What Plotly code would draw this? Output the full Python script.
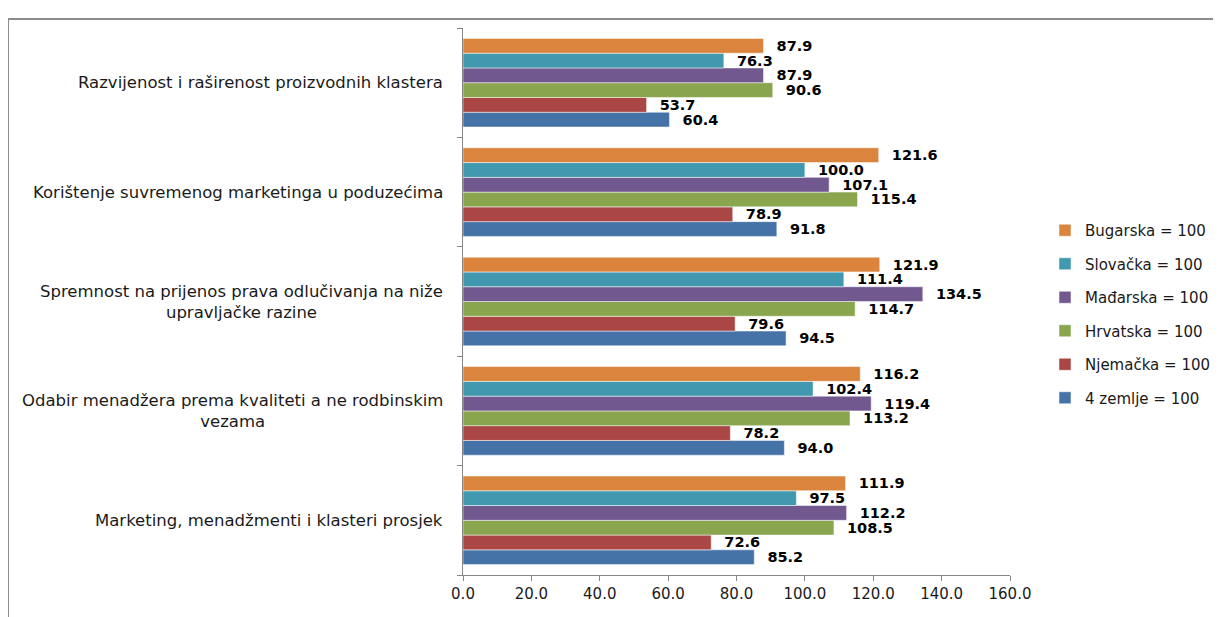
import plotly.graph_objects as go

categories = [
    "Marketing, menadžmenti i klasteri prosjek",
    "Odabir menadžera prema kvaliteti a ne rodbinskim<br>vezama",
    "Spremnost na prijenos prava odlučivanja na niže<br>upravljačke razine",
    "Korištenje suvremenog marketinga u poduzećima",
    "Razvijenost i raširenost proizvodnih klastera",
]

series_names = ["4 zemlje = 100", "Njemačka = 100", "Hrvatska = 100",
                "Mađarska = 100", "Slovačka = 100", "Bugarska = 100"]

# values per series, ordered as categories (bottom to top)
zemlje4 = [85.2, 94.0, 94.5, 91.8, 60.4]
njemacka = [72.6, 78.2, 79.6, 78.9, 53.7]
hrvatska = [108.5, 113.2, 114.7, 115.4, 90.6]
madarska = [112.2, 119.4, 134.5, 107.1, 87.9]
slovacka = [97.5, 102.4, 111.4, 100.0, 76.3]
bugarska = [111.9, 116.2, 121.9, 121.6, 87.9]

series_values = [zemlje4, njemacka, hrvatska, madarska, slovacka, bugarska]
colors = ["#4572A7", "#AA4643", "#89A54E", "#71588F", "#4198AF", "#DB843D"]

x_ticks = [0, 20, 40, 60, 80, 100, 120, 140, 160]
x_tick_labels = ["0.0", "20.0", "40.0", "60.0", "80.0", "100.0", "120.0", "140.0", "160.0"]

# page has an 8px body margin; work in window coordinates and shift
O = 8
WW, WH = 1221, 617
W, H = WW - O, WH - O
pl, pr, pt, pb = 463, 1010, 28, 575   # plot area in window coordinates
L, R, T, B = pl - O, (WW - pr), pt - O, (WH - pb)
pw, ph = pr - pl, pb - pt

fig = go.Figure()
n = len(series_names)
for i, (name, vals, col) in enumerate(zip(series_names, series_values, colors)):
    fig.add_trace(go.Bar(
        y=categories, x=vals, name=name, orientation="h",
        marker=dict(color=col, line=dict(color="white", width=0.5)),
        texttemplate="  %{x:.1f}", textposition="outside",
        textfont=dict(family="DejaVu Sans", size=14.5, color="black", weight="bold"),
        cliponaxis=False, legendgroup=name, legendrank=n - i,
        constraintext="none",
    ))

annotations = []
for c in categories:
    annotations.append(dict(
        x=0, xref="paper", y=c, yref="y", text=c, showarrow=False,
        xanchor="right", yanchor="middle", align="center", xshift=-18,
        font=dict(family="DejaVu Sans", size=16.5, color="#1a1a1a"),
    ))

fig.update_layout(
    width=W, height=H,
    margin=dict(l=L, r=R, t=T, b=B, autoexpand=False),
    barmode="group", bargap=0.19, bargroupgap=0.0,
    plot_bgcolor="white", paper_bgcolor="white",
    font=dict(family="DejaVu Sans", size=15, color="#000000"),
    legend=dict(
        x=(1045 - pl) / pw, y=(pb - 314) / ph, xanchor="left", yanchor="middle",
        traceorder="grouped", tracegroupgap=11,
        font=dict(family="DejaVu Sans", size=15, color="#1a1a1a"), itemwidth=30,
    ),
    xaxis=dict(
        range=[0, 160], tickvals=x_ticks, ticktext=x_tick_labels,
        showgrid=False, zeroline=False, showline=True, linecolor="#868686",
        ticks="outside", ticklen=5, tickcolor="#868686",
        tickfont=dict(family="DejaVu Sans", size=15, color="#1a1a1a"),
    ),
    yaxis=dict(
        showgrid=False, showline=True, linecolor="#868686",
        ticks="outside", ticklen=5, tickcolor="#868686", tickson="boundaries",
        showticklabels=False, range=[-0.5, 4.5],
    ),
    annotations=annotations,
    shapes=[dict(
        type="rect", xref="paper", yref="paper",
        x0=(8 - pl) / pw, x1=(1240 - pl) / pw,
        y0=(pb - 660) / ph, y1=(pb - 19) / ph,
        line=dict(color="#8c8c8c", width=2), fillcolor="rgba(0,0,0,0)", layer="below",
    )],
)

fig.write_html("out.html")
